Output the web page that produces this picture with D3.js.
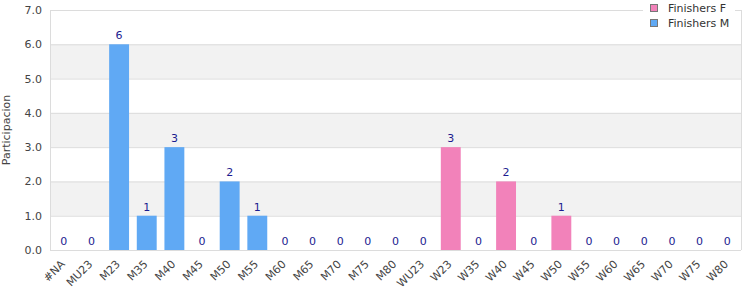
<!DOCTYPE html>
<html><head><meta charset="utf-8">
<script src="https://cdn.jsdelivr.net/npm/d3@7"></script>
<style>body{margin:0;background:#fff;font-family:"DejaVu Sans",sans-serif;}</style>
</head><body><svg id="c" width="750" height="300"></svg>
<script>
const categories = ["#NA","MU23","M23","M35","M40","M45","M50","M55","M60","M65","M70","M75","M80","WU23","W23","W35","W40","W45","W50","W55","W60","W65","W70","W75","W80"];
const finishersM = [0,0,6,1,3,0,2,1,0,0,0,0,0,null,null,null,null,null,null,null,null,null,null,null,null];
const finishersF = [null,null,null,null,null,null,null,null,null,null,null,null,null,0,3,0,2,0,1,0,0,0,0,0,0];
const yTicks = [0,1,2,3,4,5,6,7];
const seriesNames = ["Finishers F","Finishers M"];
const colors = {"Finishers F":"#f282ba","Finishers M":"#60a9f4"};

const svg = d3.select("#c");
const m = {l:50, r:9, t:10, b:50};
const W = 750, H = 300;
const x = d3.scaleBand().domain(categories).range([m.l, W-m.r]).paddingInner(0.28).paddingOuter(0.14);
const y = d3.scaleLinear().domain([0,7]).range([H-m.b, m.t]);

// alternating bands
for (let i=1;i<7;i+=2){
  svg.append("rect").attr("x",m.l).attr("width",W-m.r-m.l)
    .attr("y",y(i+1)).attr("height",y(i)-y(i+1)).attr("fill","#f2f2f2");
}
// grid lines
svg.append("g").selectAll("line").data(yTicks).join("line")
  .attr("x1",m.l).attr("x2",W-m.r).attr("y1",d=>y(d)+0.5).attr("y2",d=>y(d)+0.5)
  .attr("stroke","#dcdcdc");
// left/right border
svg.append("line").attr("x1",m.l+0.5).attr("x2",m.l+0.5).attr("y1",y(7)).attr("y2",y(0)).attr("stroke","#dcdcdc");
svg.append("line").attr("x1",W-m.r+0.5).attr("x2",W-m.r+0.5).attr("y1",y(7)).attr("y2",y(0)).attr("stroke","#dcdcdc");

// y axis
const ya = svg.append("g").attr("transform",`translate(${m.l},0)`)
  .call(d3.axisLeft(y).tickValues(yTicks).tickFormat(d3.format(".1f")).tickSize(0).tickPadding(8));
ya.select(".domain").remove();
ya.selectAll("text").attr("font-size",11).attr("fill","#444").attr("font-family","DejaVu Sans");

// x axis (rotated labels)
const xa = svg.append("g").attr("transform",`translate(0,${y(0)})`)
  .call(d3.axisBottom(x).tickSize(0).tickFormat(""));
xa.select(".domain").remove();
const xl = svg.append("g").selectAll("g").data(categories).join("g")
  .attr("transform",d=>`translate(${x(d)+x.bandwidth()/2-1},${y(0)+12})`);
xl.append("text").attr("transform","rotate(-45)")
  .attr("text-anchor","end").attr("dy","0.35em")
  .attr("font-size",11).attr("fill","#444").text(d=>d);

// y title
svg.append("text").attr("transform",`translate(10,${(y(0)+y(7))/2}) rotate(-90)`)
  .attr("text-anchor","middle").attr("font-size",11).attr("fill","#444").text("Participacion");

// bars
function drawSeries(vals, name){
  const data = categories.map((c,i)=>({c, v:vals[i]})).filter(d=>d.v!==null);
  svg.append("g").selectAll("rect").data(data.filter(d=>d.v>0)).join("rect")
    .attr("x",d=>x(d.c)).attr("width",x.bandwidth())
    .attr("y",d=>y(d.v)).attr("height",d=>y(0)-y(d.v)).attr("fill",colors[name]);
  svg.append("g").selectAll("text").data(data).join("text")
    .attr("x",d=>x(d.c)+x.bandwidth()/2).attr("y",d=>y(d.v)-5)
    .attr("text-anchor","middle").attr("font-size",11).attr("fill","#1c1c90").text(d=>d.v);
}
drawSeries(finishersM,"Finishers M");
drawSeries(finishersF,"Finishers F");

// legend
const lg = svg.append("g");
lg.append("rect").attr("x",643).attr("y",0).attr("width",92).attr("height",36).attr("fill","#fff");
seriesNames.forEach((s,i)=>{
  lg.append("rect").attr("x",650.5).attr("y",4.5+i*15).attr("width",7).attr("height",7)
    .attr("fill",colors[s]).attr("stroke","#777");
  lg.append("text").attr("x",668).attr("y",12+i*15).attr("font-size",11).attr("fill","#333").text(s);
});
</script></body></html>
